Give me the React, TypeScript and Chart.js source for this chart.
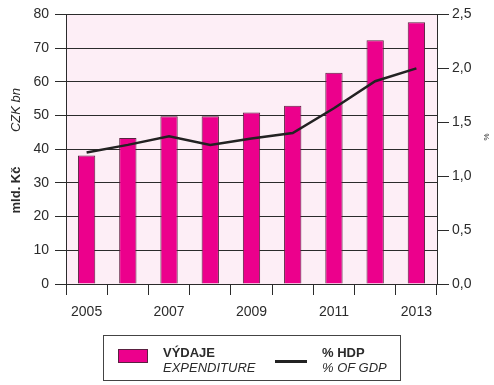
import React, { useEffect, useRef } from "react";
import { Chart, registerables } from "chart.js";

Chart.register(...registerables);

const years = ["2005", "2006", "2007", "2008", "2009", "2010", "2011", "2012", "2013"];
const expenditure = [38.1, 43.3, 49.8, 49.8, 50.9, 52.9, 62.7, 72.3, 77.7];
const gdpShare = [1.22, 1.29, 1.37, 1.29, 1.35, 1.4, 1.63, 1.88, 2.0];
const leftTicks = [0, 10, 20, 30, 40, 50, 60, 70, 80];
const rightTicks = [0, 0.5, 1.0, 1.5, 2.0, 2.5];

const FONT = "'Liberation Sans', Arial, Helvetica, sans-serif";
const INK = "#2b2b2b";
const MAGENTA = "#EC008C";

const decorPlugin = {
  id: "decor",
  beforeDraw(chart: any) {
    const { ctx, chartArea } = chart;
    ctx.save();
    ctx.fillStyle = "#FDEEF6";
    ctx.fillRect(chartArea.left, chartArea.top, chartArea.right - chartArea.left, chartArea.bottom - chartArea.top);
    ctx.restore();
  },
  afterDraw(chart: any) {
    const { ctx } = chart;
    ctx.save();
    ctx.fillStyle = INK;
    ctx.textAlign = "center";
    ctx.textBaseline = "middle";
    ctx.save();
    ctx.translate(16, 190);
    ctx.rotate(-Math.PI / 2);
    ctx.font = `bold 13px ${FONT}`;
    ctx.fillText("mld. Kč", 0, 0);
    ctx.restore();
    ctx.save();
    ctx.translate(16, 110);
    ctx.rotate(-Math.PI / 2);
    ctx.font = `italic 13px ${FONT}`;
    ctx.fillText("CZK bn", 0, 0);
    ctx.restore();
    ctx.save();
    ctx.translate(487, 137);
    ctx.rotate(-Math.PI / 2);
    ctx.font = `8px ${FONT}`;
    ctx.fillText("%", 0, 0);
    ctx.restore();
    ctx.restore();
  },
};

export default function App() {
  const ref = useRef<HTMLCanvasElement>(null);
  useEffect(() => {
    if (!ref.current) return;
    const chart = new Chart(ref.current, {
      type: "bar",
      data: {
        labels: years,
        datasets: [
          {
            type: "line",
            label: "% HDP",
            data: gdpShare,
            yAxisID: "y1",
            borderColor: "#222222",
            borderWidth: 2.5,
            pointRadius: 0,
            tension: 0,
            order: 0,
          } as any,
          {
            type: "bar",
            label: "VÝDAJE",
            data: expenditure,
            yAxisID: "y",
            backgroundColor: MAGENTA,
            borderColor: "#5a2040",
            borderWidth: 1,
            categoryPercentage: 1,
            barPercentage: 0.42,
            order: 1,
          } as any,
        ],
      },
      options: {
        animation: false,
        responsive: false,
        maintainAspectRatio: false,
        devicePixelRatio: 1,
        layout: { padding: { top: 11, left: 0, right: 0, bottom: 0 } },
        plugins: { legend: { display: false }, tooltip: { enabled: false } },
        scales: {
          x: {
            offset: true,
            grid: {
              offset: true,
              drawOnChartArea: false,
              drawTicks: true,
              tickLength: 11,
              color: INK,
              lineWidth: 1,
            },
            border: { display: true, color: INK, width: 1 },
            ticks: {
              autoSkip: false,
              maxRotation: 0,
              padding: 9,
              color: INK,
              font: { family: FONT, size: 14 },
              callback: (_v: any, i: number) => (i % 2 === 0 ? years[i] : ""),
            },
            afterFit: (s: any) => {
              s.height = 101;
            },
          },
          y: {
            position: "left",
            min: 0,
            max: 80,
            afterBuildTicks: (s: any) => {
              s.ticks = leftTicks.map((v) => ({ value: v }));
            },
            grid: { color: INK, lineWidth: 1, tickLength: 11, drawTicks: true },
            border: { display: true, color: INK, width: 1 },
            ticks: { padding: 6, color: INK, font: { family: FONT, size: 14 } },
            afterFit: (s: any) => {
              s.width = 66;
            },
          },
          y1: {
            position: "right",
            min: 0,
            max: 2.5,
            afterBuildTicks: (s: any) => {
              s.ticks = rightTicks.map((v) => ({ value: v }));
            },
            grid: { drawOnChartArea: false, color: INK, lineWidth: 1, tickLength: 12, drawTicks: true },
            border: { display: true, color: INK, width: 1 },
            ticks: {
              padding: 3,
              color: INK,
              font: { family: FONT, size: 14 },
              callback: (v: any) => Number(v).toFixed(1).replace(".", ","),
            },
            afterFit: (s: any) => {
              s.width = 57;
            },
          },
        },
      },
      plugins: [decorPlugin],
    });
    return () => chart.destroy();
  }, []);

  const txt: React.CSSProperties = {
    position: "absolute",
    fontFamily: FONT,
    fontSize: 13,
    color: INK,
    lineHeight: "14px",
    whiteSpace: "nowrap",
  };

  return (
    <div style={{ position: "fixed", left: 0, top: 0, width: 494, height: 385, background: "#fff", overflow: "hidden" }}>
      <canvas ref={ref} width={494} height={385} style={{ position: "absolute", left: 0, top: 0, width: 494, height: 385 }} />
      <div
        style={{
          position: "absolute",
          left: 103,
          top: 335,
          width: 298,
          height: 46,
          border: "1px solid #444",
          boxSizing: "border-box",
        }}
      />
      <div style={{ position: "absolute", left: 118, top: 349, width: 30, height: 14, background: MAGENTA, border: "1px solid #5a2040", boxSizing: "border-box" }} />
      <div style={{ ...txt, left: 163, top: 346, fontWeight: "bold" }}>VÝDAJE</div>
      <div style={{ ...txt, left: 163, top: 361, fontStyle: "italic" }}>EXPENDITURE</div>
      <div style={{ position: "absolute", left: 275, top: 360, width: 32, height: 3, background: "#222" }} />
      <div style={{ ...txt, left: 322, top: 346, fontWeight: "bold" }}>% HDP</div>
      <div style={{ ...txt, left: 322, top: 361, fontStyle: "italic" }}>% OF GDP</div>
    </div>
  );
}
